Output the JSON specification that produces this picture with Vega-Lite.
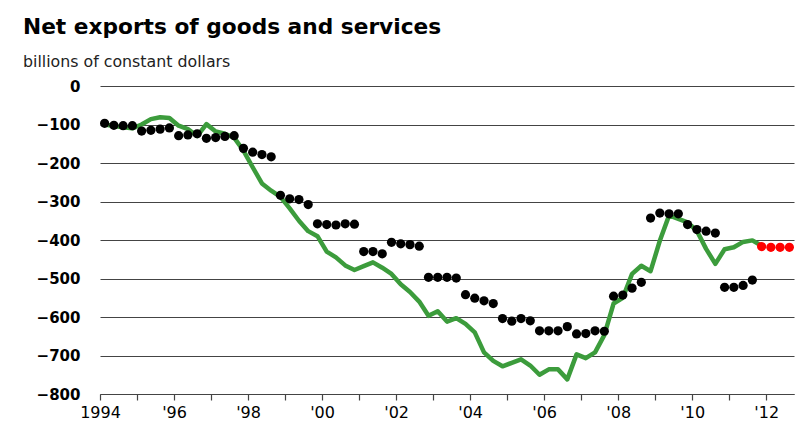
{
  "$schema": "https://vega.github.io/schema/vega-lite/v6.json",
  "width": 694,
  "height": 308,
  "autosize": {"type": "none"},
  "padding": {"left": 100, "top": 86, "right": 18, "bottom": 40},
  "background": "#ffffff",
  "config": {
    "font": "DejaVu Sans",
    "view": {"stroke": null},
    "title": {"anchor": "start", "frame": "group", "font": "DejaVu Sans", "fontSize": 21.7, "fontWeight": "bold", "color": "#000000", "subtitleFont": "DejaVu Sans", "subtitleFontSize": 15.8, "subtitleColor": "#222222", "subtitlePadding": 17, "dx": -77, "offset": 9}
  },
  "title": {"text": "Net exports of goods and services", "subtitle": "billions of constant dollars"},
  "datasets": {
    "actual": [
      {"t": 1994.125, "v": -100}, {"t": 1994.375, "v": -104}, {"t": 1994.625, "v": -107}, {"t": 1994.875, "v": -110},
      {"t": 1995.125, "v": -100}, {"t": 1995.375, "v": -86}, {"t": 1995.625, "v": -81}, {"t": 1995.875, "v": -83},
      {"t": 1996.125, "v": -103}, {"t": 1996.375, "v": -112}, {"t": 1996.625, "v": -130}, {"t": 1996.875, "v": -99},
      {"t": 1997.125, "v": -118}, {"t": 1997.375, "v": -124}, {"t": 1997.625, "v": -134}, {"t": 1997.875, "v": -168},
      {"t": 1998.125, "v": -211}, {"t": 1998.375, "v": -253}, {"t": 1998.625, "v": -272}, {"t": 1998.875, "v": -288},
      {"t": 1999.125, "v": -318}, {"t": 1999.375, "v": -350}, {"t": 1999.625, "v": -377}, {"t": 1999.875, "v": -390},
      {"t": 2000.125, "v": -430}, {"t": 2000.375, "v": -445}, {"t": 2000.625, "v": -466}, {"t": 2000.875, "v": -478},
      {"t": 2001.125, "v": -468}, {"t": 2001.375, "v": -458}, {"t": 2001.625, "v": -472}, {"t": 2001.875, "v": -488},
      {"t": 2002.125, "v": -515}, {"t": 2002.375, "v": -535}, {"t": 2002.625, "v": -560}, {"t": 2002.875, "v": -597},
      {"t": 2003.125, "v": -585}, {"t": 2003.375, "v": -612}, {"t": 2003.625, "v": -603}, {"t": 2003.875, "v": -618},
      {"t": 2004.125, "v": -640}, {"t": 2004.375, "v": -692}, {"t": 2004.625, "v": -714}, {"t": 2004.875, "v": -728},
      {"t": 2005.125, "v": -719}, {"t": 2005.375, "v": -710}, {"t": 2005.625, "v": -726}, {"t": 2005.875, "v": -750},
      {"t": 2006.125, "v": -736}, {"t": 2006.375, "v": -736}, {"t": 2006.625, "v": -762}, {"t": 2006.875, "v": -697},
      {"t": 2007.125, "v": -707}, {"t": 2007.375, "v": -692}, {"t": 2007.625, "v": -647}, {"t": 2007.875, "v": -565},
      {"t": 2008.125, "v": -550}, {"t": 2008.375, "v": -488}, {"t": 2008.625, "v": -467}, {"t": 2008.875, "v": -481},
      {"t": 2009.125, "v": -402}, {"t": 2009.375, "v": -336}, {"t": 2009.625, "v": -345}, {"t": 2009.875, "v": -354},
      {"t": 2010.125, "v": -376}, {"t": 2010.375, "v": -423}, {"t": 2010.625, "v": -462}, {"t": 2010.875, "v": -424},
      {"t": 2011.125, "v": -419}, {"t": 2011.375, "v": -405}, {"t": 2011.625, "v": -401}, {"t": 2011.875, "v": -415}
    ],
    "forecast": [
      {"t": 1994.125, "v": -97}, {"t": 1994.375, "v": -102}, {"t": 1994.625, "v": -103}, {"t": 1994.875, "v": -103},
      {"t": 1995.125, "v": -117}, {"t": 1995.375, "v": -115}, {"t": 1995.625, "v": -112}, {"t": 1995.875, "v": -109},
      {"t": 1996.125, "v": -129}, {"t": 1996.375, "v": -127}, {"t": 1996.625, "v": -124}, {"t": 1996.875, "v": -136},
      {"t": 1997.125, "v": -134}, {"t": 1997.375, "v": -131}, {"t": 1997.625, "v": -129}, {"t": 1997.875, "v": -162},
      {"t": 1998.125, "v": -172}, {"t": 1998.375, "v": -178}, {"t": 1998.625, "v": -184}, {"t": 1998.875, "v": -284},
      {"t": 1999.125, "v": -293}, {"t": 1999.375, "v": -295}, {"t": 1999.625, "v": -308}, {"t": 1999.875, "v": -358},
      {"t": 2000.125, "v": -360}, {"t": 2000.375, "v": -361}, {"t": 2000.625, "v": -358}, {"t": 2000.875, "v": -359},
      {"t": 2001.125, "v": -430}, {"t": 2001.375, "v": -430}, {"t": 2001.625, "v": -436}, {"t": 2001.875, "v": -406},
      {"t": 2002.125, "v": -410}, {"t": 2002.375, "v": -412}, {"t": 2002.625, "v": -416}, {"t": 2002.875, "v": -497},
      {"t": 2003.125, "v": -497}, {"t": 2003.375, "v": -497}, {"t": 2003.625, "v": -499}, {"t": 2003.875, "v": -542},
      {"t": 2004.125, "v": -551}, {"t": 2004.375, "v": -558}, {"t": 2004.625, "v": -565}, {"t": 2004.875, "v": -604},
      {"t": 2005.125, "v": -611}, {"t": 2005.375, "v": -604}, {"t": 2005.625, "v": -610}, {"t": 2005.875, "v": -636},
      {"t": 2006.125, "v": -636}, {"t": 2006.375, "v": -636}, {"t": 2006.625, "v": -625}, {"t": 2006.875, "v": -644},
      {"t": 2007.125, "v": -643}, {"t": 2007.375, "v": -636}, {"t": 2007.625, "v": -637}, {"t": 2007.875, "v": -546},
      {"t": 2008.125, "v": -543}, {"t": 2008.375, "v": -525}, {"t": 2008.625, "v": -510}, {"t": 2008.875, "v": -343},
      {"t": 2009.125, "v": -330}, {"t": 2009.375, "v": -332}, {"t": 2009.625, "v": -332}, {"t": 2009.875, "v": -360},
      {"t": 2010.125, "v": -373}, {"t": 2010.375, "v": -377}, {"t": 2010.625, "v": -382}, {"t": 2010.875, "v": -523},
      {"t": 2011.125, "v": -523}, {"t": 2011.375, "v": -518}, {"t": 2011.625, "v": -504}
    ],
    "latest": [
      {"t": 2011.875, "v": -417}, {"t": 2012.125, "v": -419}, {"t": 2012.375, "v": -419}, {"t": 2012.625, "v": -419}
    ]
  },
  "encoding": {
    "x": {
      "field": "t", "type": "quantitative",
      "scale": {"domain": [1994, 2012.75], "nice": false, "zero": false},
      "axis": {
        "title": null, "grid": false,
        "values": [1994, 1995, 1996, 1997, 1998, 1999, 2000, 2001, 2002, 2003, 2004, 2005, 2006, 2007, 2008, 2009, 2010, 2011, 2012],
        "labelExpr": "datum.value == 1994 ? '1994' : (datum.value % 2 == 0 ? \"'\" + substring(toString(datum.value), 2, 4) : '')",
        "labelOverlap": false, "labelFlush": false,
        "domainColor": "#444444", "domainWidth": 1.2,
        "tickColor": "#444444", "tickWidth": 1.2, "tickSize": 6,
        "labelFont": "DejaVu Sans", "labelFontSize": 16, "labelColor": "#000000", "labelPadding": 4
      }
    },
    "y": {
      "field": "v", "type": "quantitative",
      "scale": {"domain": [-800, 0], "nice": false},
      "axis": {
        "title": null, "grid": true, "gridColor": "#444444", "gridWidth": 1.2,
        "values": [-800, -700, -600, -500, -400, -300, -200, -100, 0],
        "domain": false, "ticks": false,
        "labelFont": "DejaVu Sans", "labelFontSize": 15, "labelFontWeight": "bold", "labelColor": "#000000", "labelPadding": 20
      }
    }
  },
  "layer": [
    {"data": {"name": "actual"}, "mark": {"type": "line", "color": "#3c9c3c", "strokeWidth": 4.5, "strokeJoin": "round"}},
    {"data": {"name": "forecast"}, "mark": {"type": "circle", "color": "#000000", "size": 85, "opacity": 1}},
    {"data": {"name": "latest"}, "mark": {"type": "circle", "color": "#ff0000", "size": 85, "opacity": 1}}
  ]
}
